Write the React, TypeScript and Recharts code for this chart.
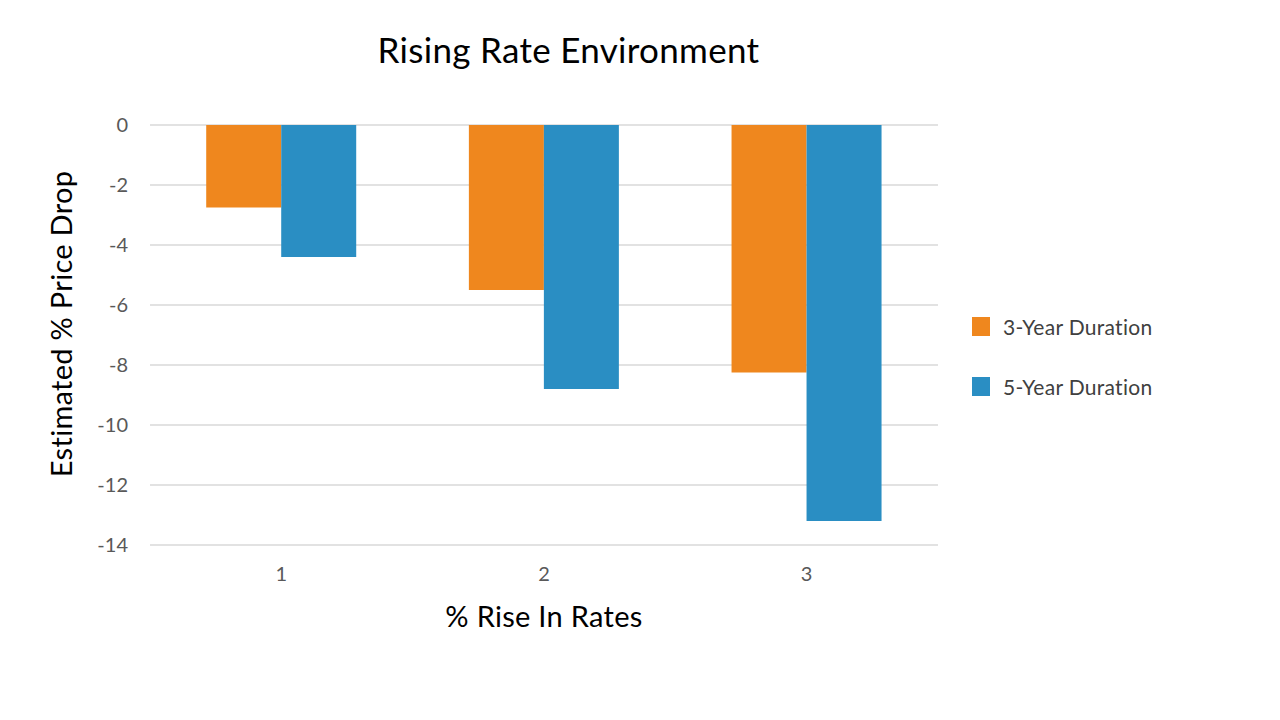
import { Bar, BarChart, CartesianGrid, Label, Legend, XAxis, YAxis } from 'recharts';

const rises = ['1', '2', '3'];
const threeYear = [-2.75, -5.5, -8.25];
const fiveYear = [-4.4, -8.8, -13.2];
const yTicks = [0, -2, -4, -6, -8, -10, -12, -14];

const data = rises.map((r, i) => ({ rise: r, threeYear: threeYear[i], fiveYear: fiveYear[i] }));

const FONT = 'Lato, "Open Sans", sans-serif';

function LegendBox({ payload }: any) {
  return (
    <div style={{ fontFamily: FONT }}>
      {(payload || []).map((p: any) => (
        <div key={p.value} style={{ display: 'flex', alignItems: 'center', height: 60 }}>
          <span style={{ width: 18, height: 19, background: p.color, display: 'inline-block', marginRight: 13 }} />
          <span style={{ fontSize: 21, color: '#404040', letterSpacing: 0.3 }}>{p.value}</span>
        </div>
      ))}
    </div>
  );
}

export default function App() {
  return (
    <div style={{ position: 'absolute', left: 0, top: 0, width: 1280, height: 720, background: '#fff' }}>
      <div
        style={{
          position: 'absolute',
          left: 0,
          width: 1137,
          top: 28,
          textAlign: 'center',
          fontFamily: FONT,
          fontSize: 35,
          letterSpacing: 0.3,
          color: '#000',
        }}
      >
        Rising Rate Environment
      </div>
      <BarChart
        width={1280}
        height={720}
        data={data}
        margin={{ top: 125, right: 82, left: 90, bottom: 135 }}
        barCategoryGap="21.4%"
        barGap={0}
      >
        <CartesianGrid vertical={false} stroke="#d9d9d9" strokeWidth={1.5} />
        <XAxis
          dataKey="rise"
          axisLine={false}
          tickLine={false}
          height={40}
          tickMargin={16}
          tick={{ fontSize: 20, fill: '#595959', fontFamily: FONT }}
        >
          <Label
            content={({ viewBox }: any) => (
              <text
                x={viewBox.x + viewBox.width / 2}
                y={627}
                textAnchor="middle"
                fontSize={29}
                fontFamily={FONT}
                letterSpacing={0.3}
                fill="#000"
              >
                % Rise In Rates
              </text>
            )}
          />
        </XAxis>
        <YAxis
          width={60}
          domain={[-14, 0]}
          ticks={yTicks}
          interval={0}
          axisLine={false}
          tickLine={false}
          tickMargin={16}
          tick={{ fontSize: 20, fill: '#595959', fontFamily: FONT }}
        >
          <Label
            content={() => (
              <text
                x={72}
                y={324}
                transform="rotate(-90 72 324)"
                textAnchor="middle"
                fontSize={29}
                fontFamily={FONT}
                letterSpacing={0.3}
                fill="#000"
              >
                Estimated % Price Drop
              </text>
            )}
          />
        </YAxis>
        <Legend
          layout="vertical"
          align="right"
          verticalAlign="middle"
          content={<LegendBox />}
          wrapperStyle={{ left: 972, top: 296, width: 260 }}
        />
        <Bar dataKey="threeYear" name="3-Year Duration" fill="#EF871E" isAnimationActive={false} />
        <Bar dataKey="fiveYear" name="5-Year Duration" fill="#2A8EC3" isAnimationActive={false} />
      </BarChart>
    </div>
  );
}
